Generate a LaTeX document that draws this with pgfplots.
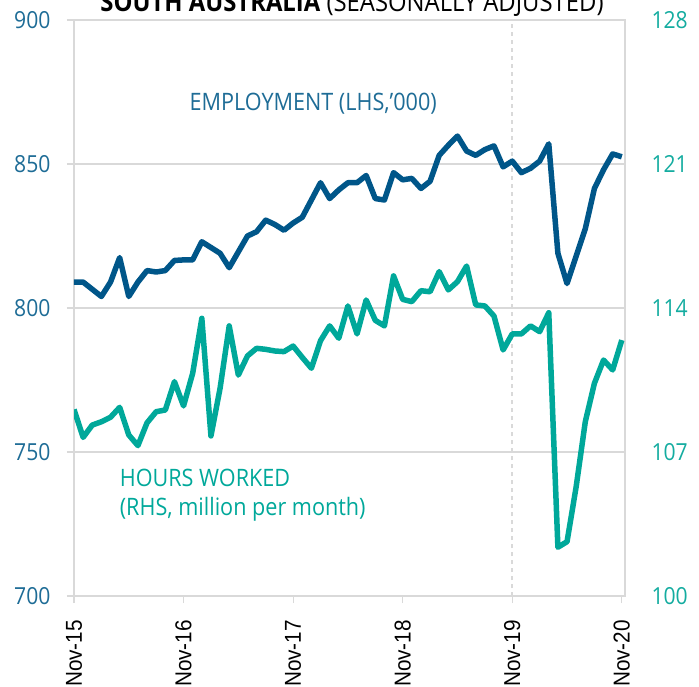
\documentclass[border=0pt]{standalone}
\usepackage{pgfplots}
\pgfplotsset{compat=1.18}
\usepackage{pgfplotstable}
\usepackage{fontspec}
\setmainfont{Open Sans}[FakeStretch=0.9]
\newfontfamily\xfont{Liberation Sans}[FakeStretch=0.9]
\definecolor{empblue}{RGB}{0,86,137}
\definecolor{hrsteal}{RGB}{0,168,154}
\definecolor{lblblue}{RGB}{30,108,150}
\definecolor{lblteal}{RGB}{20,172,160}
\definecolor{gridgray}{RGB}{217,217,217}

\pgfplotstableread{
m emp
0 809
1 809
2 806.5
3 804
4 809
5 817.5
6 804
7 809
8 813
9 812.5
10 813
11 816.5
12 816.7
13 816.7
14 823
15 821
16 819
17 814
18 819.5
19 825
20 826.5
21 830.5
22 829
23 827
24 829.5
25 831.5
26 837.5
27 843.5
28 838
29 841
30 843.5
31 843.5
32 846
33 838
34 837.5
35 847
36 844.5
37 845
38 841.5
39 844
40 853
41 856.5
42 859.7
43 854.5
44 853
45 855
46 856.3
47 849
48 851
49 847
50 848.5
51 851
52 857
53 819
54 808.5
55 818
56 827.5
57 841.5
58 848
59 853.5
60 852.5
}\emptable

\pgfplotstableread{
m hrs
0 109.07
1 107.71
2 108.31
3 108.47
4 108.69
5 109.17
6 107.83
7 107.31
8 108.42
9 108.96
10 109.04
11 110.42
12 109.24
13 110.83
14 113.5
15 107.78
16 110.1
17 113.13
18 110.74
19 111.67
20 112.04
21 111.99
22 111.91
23 111.88
24 112.15
25 111.6
26 111.07
27 112.41
28 113.13
29 112.53
30 114.1
31 112.74
32 114.39
33 113.4
34 113.13
35 115.56
36 114.42
37 114.31
38 114.84
39 114.79
40 115.77
41 114.88
42 115.28
43 116.04
44 114.15
45 114.1
46 113.61
47 111.96
48 112.74
49 112.74
50 113.13
51 112.85
52 113.77
53 102.37
54 102.64
55 105.31
56 108.47
57 110.34
58 111.47
59 110.99
60 112.44
}\hrstable

\begin{document}
\begin{tikzpicture}[x=1pt,y=1pt]
\begin{axis}[
  at={(0,0)}, anchor=south west,
  width=551pt, height=576pt, scale only axis,
  xmin=0, xmax=60.35, ymin=700, ymax=900,
  ytick={700,750,800,850,900},
  xtick={0,12,24,36,48,60},
  xticklabels={Nov-15,Nov-16,Nov-17,Nov-18,Nov-19,Nov-20},
  xtick pos=lower, ytick pos=left,
  tick align=outside, major tick length=7pt,
  tick style={gridgray, line width=1.2pt},
  axis line style={gridgray, line width=1.5pt},
  ymajorgrids, grid style={gridgray, line width=1.5pt},
  /pgf/number format/assume math mode=true,
  x tick label style={rotate=90, anchor=east, inner xsep=17pt, font=\xfont\fontsize{23}{26}\selectfont, text=black},
  y tick label style={font=\fontsize{23.5}{27}\selectfont, text=lblblue, xshift=-13pt},
  clip=false,
]
\addplot[gridgray, line width=1.5pt, dash pattern=on 4pt off 4pt, forget plot] coordinates {(48,700) (48,900)};
\addplot[empblue, line width=5.5pt, line join=round] table[x=m, y=emp] {\emptable};
\node[text=lblblue, font=\fontsize{24}{28}\selectfont, anchor=center] at (axis cs:26.2,871) {EMPLOYMENT (LHS,'000)};
\node[text=hrsteal, font=\fontsize{24}{28}\selectfont, anchor=west, inner sep=0pt] at (axis cs:5,741) {HOURS WORKED};
\node[text=hrsteal, font=\fontsize{24}{28}\selectfont, anchor=west, inner sep=0pt] at (axis cs:5,730) {(RHS, million per month)};
\end{axis}
\begin{axis}[
  at={(0,0)}, anchor=south west,
  width=551pt, height=576pt, scale only axis,
  xmin=0, xmax=60.35, ymin=100, ymax=128,
  ytick={100,107,114,121,128},
  axis x line=none,
  axis y line*=right,
  axis line style={draw=none},
  major tick length=0pt,
  /pgf/number format/assume math mode=true,
  y tick label style={font=\fontsize{23.5}{27}\selectfont, text=lblteal, xshift=23pt},
]
\addplot[hrsteal, line width=5.5pt, line join=round] table[x=m, y=hrs] {\hrstable};
\end{axis}
\node[anchor=base, font=\fontsize{26.5}{30}\selectfont] at (278pt,584pt) {\textbf{SOUTH AUSTRALIA} (SEASONALLY ADJUSTED)};
\pgfresetboundingbox
\path[use as bounding box] (-74pt,-90pt) rectangle (625pt,596pt);
\end{tikzpicture}
\end{document}
